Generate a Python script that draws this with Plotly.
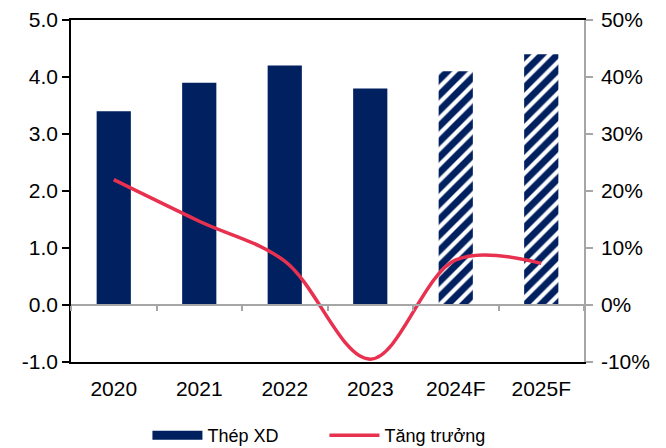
import plotly.graph_objects as go

# Construction steel output (million tonnes) and year-on-year growth
years = ["2020", "2021", "2022", "2023", "2024F", "2025F"]
volume = [3.4, 3.9, 4.2, 3.8, 4.1, 4.4]
growth = [22.0, 14.7, 7.7, -9.5, 7.9, 7.3]
forecast = [False, False, False, False, True, True]

left_ticks = [-1.0, 0.0, 1.0, 2.0, 3.0, 4.0, 5.0]
right_ticks = [-10, 0, 10, 20, 30, 40, 50]

NAVY = "#002060"
RED = "#E8314F"
GRID_GREY = "#A6A6A6"
FONT = "Liberation Sans, Arial, sans-serif"

fig = go.Figure()

# Bars: actuals solid, forecasts hatched
fig.add_trace(go.Bar(
    x=years, y=volume, name="Thép XD", showlegend=False,
    width=0.4,
    marker=dict(
        color=NAVY,
        line=dict(width=0),
        pattern=dict(
            shape=["/" if f else "" for f in forecast],
            fgcolor="white", bgcolor=NAVY, size=11, solidity=0.38,
            fillmode="replace",
        ),
    ),
    xaxis="x", yaxis="y",
))

# Legend swatch for the bar series (wide solid bar)
fig.add_trace(go.Scatter(
    x=[None], y=[None], mode="lines", name="Thép XD",
    line=dict(color=NAVY, width=9), xaxis="x", yaxis="y",
))

# Growth line on the right-hand percentage axis
fig.add_trace(go.Scatter(
    x=years, y=growth, name="Tăng trưởng", mode="lines",
    line=dict(color=RED, width=3.5, shape="spline", smoothing=1.0),
    xaxis="x2", yaxis="y2",
))

fig.update_layout(
    width=666, height=448,
    margin=dict(l=71, r=82, t=20, b=86, autoexpand=False),
    paper_bgcolor="white", plot_bgcolor="white",
    font=dict(family=FONT, size=21, color="#000000"),
    bargap=0.6,
    showlegend=True,
    legend=dict(
        orientation="h", x=0.149, xanchor="left", y=-0.215, yanchor="middle",
        font=dict(size=18), itemwidth=50, tracegroupgap=0,
        entrywidth=112, entrywidthmode="pixels",
    ),
    xaxis=dict(
        type="category", range=[-0.5, 5.5],
        showline=True, linecolor="#000000", linewidth=1.5, mirror=True,
        ticks="", showgrid=False, zeroline=False,
        ticklabelstandoff=7, tickfont=dict(size=21),
    ),
    # Category axis drawn along the zero line with boundary ticks
    xaxis2=dict(
        type="category", range=[-0.5, 5.5], overlaying="x",
        anchor="free", position=1 / 6,
        showline=True, linecolor=GRID_GREY, linewidth=1.5,
        ticks="outside", tickson="boundaries", ticklen=5,
        tickcolor=GRID_GREY, tickwidth=1.5,
        showticklabels=False, showgrid=False, zeroline=False,
    ),
    yaxis=dict(
        range=[-1.0, 5.0], tickvals=left_ticks,
        ticktext=[f"{v:.1f}" for v in left_ticks],
        showline=True, linecolor="#000000", linewidth=1.5,
        ticks="outside", ticklen=7, tickcolor="#000000", tickwidth=1.5,
        showgrid=False, zeroline=False, tickfont=dict(size=21),
    ),
    yaxis2=dict(
        range=[-10, 50], tickvals=right_ticks,
        ticktext=[f"{v}%" for v in right_ticks],
        overlaying="y", side="right", anchor="x",
        showline=True, linecolor=GRID_GREY, linewidth=1.5,
        ticks="outside", ticklen=7, tickcolor=GRID_GREY, tickwidth=1.5,
        showgrid=False, zeroline=False, tickfont=dict(size=21),
        ticklabelstandoff=4,
    ),
)

fig.write_html("out.html")
